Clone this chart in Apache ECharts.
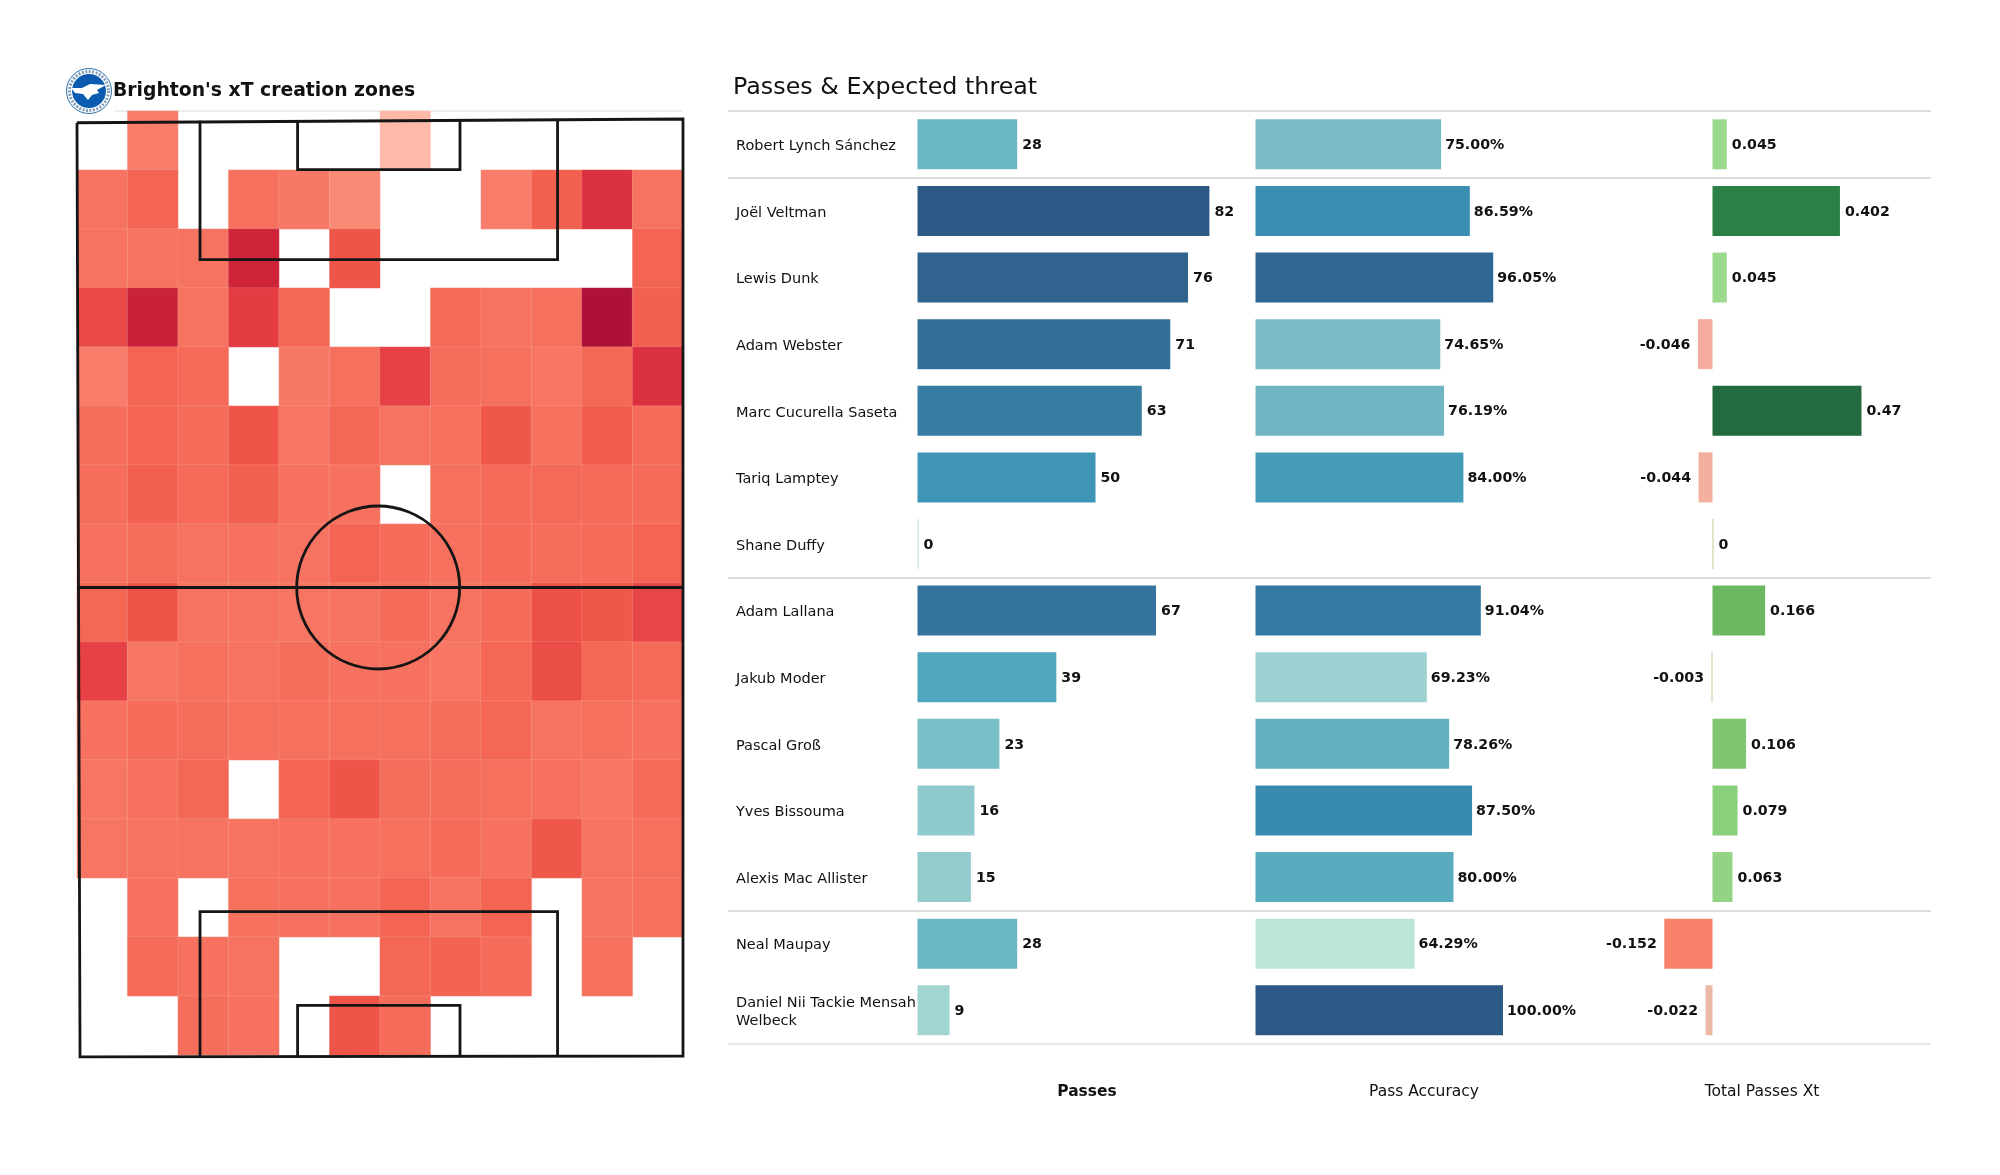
<!DOCTYPE html>
<html><head><meta charset="utf-8">
<style>html,body{margin:0;padding:0;background:#fff}#c{width:2000px;height:1175px}</style>
<script src="https://cdn.jsdelivr.net/npm/echarts@6/dist/echarts.min.js"></script>
</head><body><div id="c"></div>
<script>
const players = ["Robert Lynch Sánchez","Joël Veltman","Lewis Dunk","Adam Webster","Marc Cucurella Saseta","Tariq Lamptey","Shane Duffy","Adam Lallana","Jakub Moder","Pascal Groß","Yves Bissouma","Alexis Mac Allister","Neal Maupay","Daniel Nii Tackie Mensah\nWelbeck"];
const passes = [28,82,76,71,63,50,0,67,39,23,16,15,28,9];
const accuracy = [75,86.59,96.05,74.65,76.19,84,null,91.04,69.23,78.26,87.5,80,64.29,100];
const xt = [0.045,0.402,0.045,-0.046,0.47,-0.044,0,0.166,-0.003,0.106,0.079,0.063,-0.152,-0.022];
const separators = [0,1,7,12,14];
const columnTitles = ["Passes","Pass Accuracy","Total Passes Xt"];
const heatColumns = ["0","1","2","3","4","5","6","7","8","9","10","11"];
const heatRowNames = ["0","1","2","3","4","5","6","7","8","9","10","11","12","13","14","15"];
const _ = null;
const heat00 = [_,27,_,_,_,_,5,_,_,_,_,_];
const heat01 = [33,42,_,35,30,20,_,_,27,45,72,33];
const heat02 = [33,33,33,82,_,52,_,_,_,_,_,42];
const heat03 = [58,85,33,65,40,_,_,38,33,35,100,45];
const heat04 = [27,42,38,_,30,35,62,36,35,31,40,72];
const heat05 = [36,42,37,52,32,40,33,35,50,35,48,37];
const heat06 = [36,45,38,45,34,34,_,35,38,39,38,37];
const heat07 = [34,36,33,34,33,42,37,35,38,36,38,42];
const heat08 = [40,52,33,33,32,33,37,33,37,54,50,60];
const heat09 = [62,32,35,33,36,34,34,31,40,56,40,38];
const heat10 = [34,37,36,35,35,35,35,36,40,33,35,34];
const heat11 = [32,34,40,_,42,52,36,36,35,34,32,38];
const heat12 = [32,33,33,33,34,34,35,37,34,50,33,35];
const heat13 = [_,34,_,35,34,34,42,33,42,_,33,35];
const heat14 = [_,38,34,33,_,_,40,43,37,_,35,_];
const heat15 = [_,_,36,34,_,52,37,_,_,_,_,_];
const heatRows = [heat00,heat01,heat02,heat03,heat04,heat05,heat06,heat07,heat08,heat09,heat10,heat11,heat12,heat13,heat14,heat15];
// pitch markings, in pitch units (0-100 both ways)
const pitchOuter = [[0,0.4],[100,0],[100,100],[0.5,100.1],[0,0.4]];
const pitchHalfway = [[0,50],[100,50]];
const boxTop = [[20.3,0.2],[20.3,15],[79.3,15],[79.3,0]];
const sixTop = [[36.4,0.2],[36.4,5.4],[63.2,5.4],[63.2,0]];
const boxBottom = [[20.3,100],[20.3,84.6],[79.3,84.6],[79.3,100]];
const sixBottom = [[36.4,100],[36.4,94.6],[63.2,94.6],[63.2,100]];
const centreCircle = [[49.7,50]];

const FONT = "DejaVu Sans";
const heatData = [];
heatRows.forEach((r,y)=>r.forEach((v,x)=>{ if(v!==null) heatData.push([x,y,v]); }));

const chart = echarts.init(document.getElementById('c'),null,{renderer:'canvas'});
const barTop = 111, barH = 932.6;
const hiddenVal = (gi,min,max)=>({type:'value',gridIndex:gi,min,max,show:false});
const hiddenCat = (gi,extra)=>Object.assign({type:'category',gridIndex:gi,inverse:true,data:players,
  axisLine:{show:false},axisTick:{show:false},axisLabel:{show:false}},extra||{});
const barSeries = (gi,name,values,fmt,dist)=>({
  type:'bar',name,xAxisIndex:gi,yAxisIndex:gi,barWidth:50,barMinHeight:1,
  data:values.map(v=>({value:v,label:(v!==null&&v<0)?{position:'left',distance:7.5}:{position:'right',distance:dist}})),
  label:{show:true,offset:[0,1],fontFamily:FONT,fontWeight:'bold',fontSize:14.2,color:'#111',formatter:fmt},
  silent:true
});
const pitchLine = (data)=>({type:'line',xAxisIndex:4,yAxisIndex:4,data,symbol:'none',clip:false,silent:true,z:5,
  lineStyle:{color:'#151515',width:2.8,join:'miter'}});

chart.setOption({
  animation:false,
  backgroundColor:'#fff',
  textStyle:{fontFamily:FONT},
  title:[
    {text:"Brighton's xT creation zones",left:108,top:77,textStyle:{fontFamily:FONT,fontWeight:'bold',fontSize:18.8,color:'#111'}},
    {text:"Passes & Expected threat",left:728,top:71,textStyle:{fontFamily:FONT,fontWeight:'normal',fontSize:23.8,color:'#111'}},
    {text:columnTitles[0],left:1087,top:1079,textAlign:'center',padding:[5,0],textStyle:{fontFamily:FONT,fontWeight:'bold',fontSize:15.5,color:'#111'}},
    {text:columnTitles[1],left:1424,top:1079,textAlign:'center',padding:[5,0],textStyle:{fontFamily:FONT,fontWeight:'normal',fontSize:15.5,color:'#111'}},
    {text:columnTitles[2],left:1762,top:1079,textAlign:'center',padding:[5,0],textStyle:{fontFamily:FONT,fontWeight:'normal',fontSize:15.5,color:'#111'}}
  ],
  grid:[
    {left:917.5,top:barTop,width:356,height:barH},
    {left:1255.5,top:barTop,width:247.5,height:barH},
    {left:1554,top:barTop,width:317,height:barH},
    {left:77,top:111,width:606,height:944},
    {left:77,top:119,width:606,height:937},
    {left:728,top:barTop,width:1203,height:barH},
    {left:917.5,top:barTop+2,width:356,height:barH}
  ],
  xAxis:[
    hiddenVal(0,0,100),hiddenVal(1,0,100),hiddenVal(2,-0.5,0.5),
    {type:'category',gridIndex:3,data:heatColumns,show:false},
    hiddenVal(4,0,100),hiddenVal(5,0,1),hiddenVal(6,0,100)
  ],
  yAxis:[
    hiddenCat(0),hiddenCat(1),hiddenCat(2),
    {type:'category',gridIndex:3,data:heatRowNames,inverse:true,show:false},
    {type:'value',gridIndex:4,min:0,max:100,inverse:true,show:false},
    {type:'value',gridIndex:5,min:0,max:14,inverse:true,show:false},
    hiddenCat(6,{axisLabel:{show:true,interval:0,align:'left',margin:181.5,fontFamily:FONT,fontSize:14.5,lineHeight:18,color:'#111'}})
  ],
  visualMap:[
    {show:false,type:'continuous',seriesIndex:0,dimension:0,min:0,max:82,
      inRange:{color:['#b8e3d8','#8ecacc','#5bafc1','#3f96b6','#36789f','#2c5985']}},
    {show:false,type:'continuous',seriesIndex:1,dimension:0,min:64.29,max:100,
      inRange:{color:['#bce5d9','#98ced0','#70b6c2','#4ca6bc','#3386ae','#316d98','#2c5985']}},
    {show:false,type:'continuous',seriesIndex:2,dimension:0,min:-0.152,max:0.47,
      inRange:{color:['#f9806b','#fa9987','#f2b6a6','#a0dc90','#81ca73','#6eb962','#5aa958','#479a50','#38894a','#2a7f45','#236a3e']}},
    {show:false,type:'continuous',seriesIndex:3,dimension:2,min:0,max:100,
      inRange:{color:['#ffc9bc','#fda996','#fa8a75','#f77866','#f46755','#ef5849','#e84546','#dd3340','#d1263a','#c01c38','#ae1137']}}
  ],
  series:[
    barSeries(0,'Passes',passes,p=>p.value,5),
    barSeries(1,'Pass Accuracy',accuracy,p=>p.value.toFixed(2)+'%',4),
    barSeries(2,'Total Passes Xt',xt,p=>String(p.value),5),
    {type:'heatmap',xAxisIndex:3,yAxisIndex:3,data:heatData,silent:true,
      itemStyle:{borderColor:'rgba(255,255,255,0.12)',borderWidth:1}},
    pitchLine(pitchOuter),pitchLine(pitchHalfway),pitchLine(boxTop),pitchLine(sixTop),pitchLine(boxBottom),pitchLine(sixBottom),
    {type:'scatter',xAxisIndex:4,yAxisIndex:4,data:centreCircle,symbol:'circle',symbolSize:163,silent:true,z:5,clip:false,
      itemStyle:{color:'rgba(0,0,0,0)',borderColor:'#151515',borderWidth:2.8,opacity:1}},
    {type:'line',xAxisIndex:5,yAxisIndex:5,data:[],silent:true,
      markLine:{silent:true,symbol:'none',label:{show:false},animation:false,
        lineStyle:{color:'#dcdcdc',width:2,type:'solid'},
        data:separators.map((s,i)=>(i===separators.length-1?{yAxis:s,lineStyle:{color:'#e8e8e8'}}:{yAxis:s}))}}
  ],
  graphic:[
    {type:'line',shape:{x1:115,y1:111,x2:682,y2:111},style:{stroke:'#e6e6e6',lineWidth:1.5},z:0},
    {type:'group',left:66,top:68,z:10,children:[
      {type:'circle',shape:{cx:23,cy:23,r:22.5},style:{fill:'#fff',stroke:'#2a6ea8',lineWidth:1}},
      {type:'circle',shape:{cx:23,cy:23,r:19.5},style:{fill:'none',stroke:'#7f9dba',lineWidth:3,lineDash:[2,1.5]}},
      {type:'circle',shape:{cx:23,cy:23,r:17},style:{fill:'#0b5cb0'}},
      {type:'polygon',shape:{points:[[5,20],[16,20],[24,16],[40,17],[31,22],[33,25],[26,27],[22,32],[17,26],[9,25]]},style:{fill:'#fff'}}
    ]}
  ]
});
</script></body></html>
